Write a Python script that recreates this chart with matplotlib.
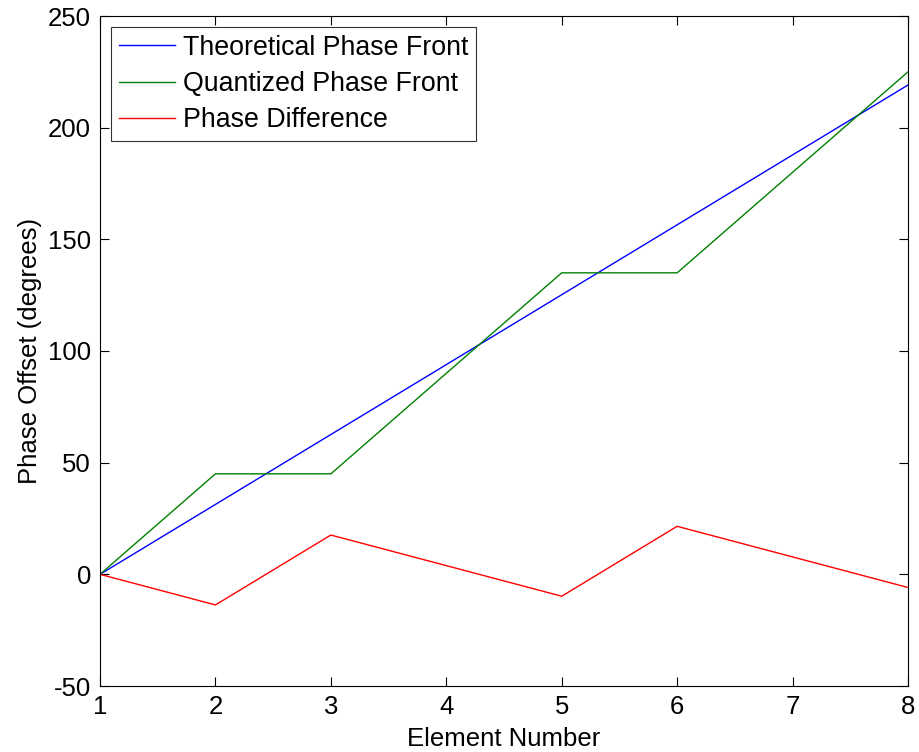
import matplotlib
matplotlib.use("Agg")
import matplotlib.pyplot as plt

plt.rcParams['font.family'] = ['Liberation Sans', 'DejaVu Sans']
plt.rcParams['axes.unicode_minus'] = False

elements = [1, 2, 3, 4, 5, 6, 7, 8]
theoretical = [0.0, 31.3, 62.6, 93.9, 125.2, 156.5, 187.8, 219.1]
quantized = [0, 45, 45, 90, 135, 135, 180, 225]
difference = [t - q for t, q in zip(theoretical, quantized)]

x_ticks = [1, 2, 3, 4, 5, 6, 7, 8]
y_ticks = [-50, 0, 50, 100, 150, 200, 250]

fig = plt.figure(figsize=(9.19, 7.52), dpi=100)
ax = fig.add_axes([100 / 919, 1 - 686 / 752, 808 / 919, 670 / 752])

ax.plot(elements, theoretical, color='#0000ff', lw=1.0, label='Theoretical Phase Front')
ax.plot(elements, quantized, color='#008000', lw=1.0, label='Quantized Phase Front')
ax.plot(elements, difference, color='#ff0000', lw=1.0, label='Phase Difference')

ax.set_xlim(1, 8)
ax.set_ylim(-50, 250)
ax.set_xticks(x_ticks)
ax.set_yticks(y_ticks)
ax.tick_params(direction='in', length=6.5, width=0.8, labelsize=18.5,
               top=True, right=True, pad=6.5)
for s in ax.spines.values():
    s.set_linewidth(0.8)

ax.set_xlabel('Element Number', fontsize=18.5, labelpad=6)
ax.set_ylabel('Phase Offset (degrees)', fontsize=18.5, labelpad=4)

leg = ax.legend(loc='upper left', fontsize=19.3, frameon=True, fancybox=False,
                edgecolor='black', borderaxespad=0.4, handlelength=2.1,
                labelspacing=0.38, borderpad=0.3, handletextpad=0.28)
leg.get_frame().set_linewidth(0.8)

fig.savefig('out.png', dpi=100)
